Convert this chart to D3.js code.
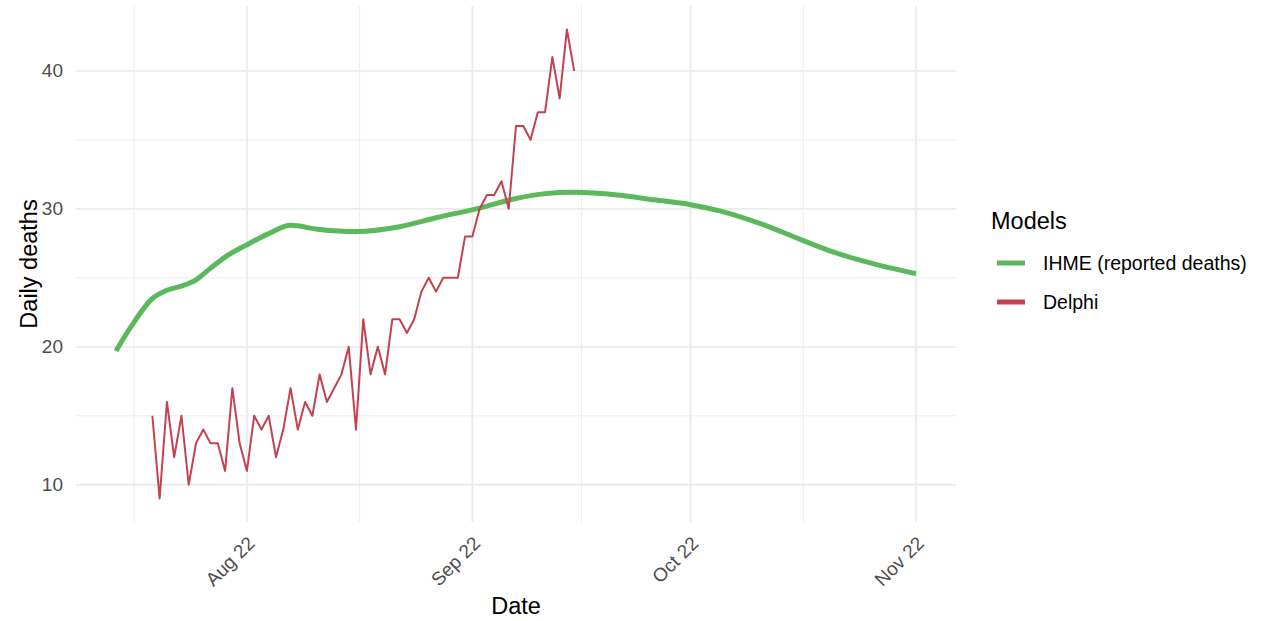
<!DOCTYPE html>
<html>
<head>
<meta charset="utf-8">
<script src="https://cdn.jsdelivr.net/npm/d3@7"></script>
<style>
  body { margin: 0; background: #fff; }
  svg { display: block; font-family: "Liberation Sans", Arial, sans-serif; }
</style>
</head>
<body>
<svg id="chart" width="1263" height="621"></svg>
<script>
// ---- data ----
const seriesNames = ["IHME (reported deaths)", "Delphi"];
const seriesColors = ["#5cb85c", "#c4424f"];

const ihmeDates = ["2022-07-14","2022-07-16","2022-07-19","2022-07-21","2022-07-23","2022-07-25","2022-07-27","2022-07-29",
  "2022-08-01","2022-08-04","2022-08-07","2022-08-11","2022-08-16","2022-08-22","2022-08-27","2022-09-02","2022-09-07",
  "2022-09-11","2022-09-15","2022-09-21","2022-09-26","2022-10-01","2022-10-05","2022-10-11","2022-10-16","2022-10-21",
  "2022-10-27","2022-11-01"];
const ihmeValues = [19.7,21.4,23.5,24.1,24.4,24.85,25.7,26.5,
  27.4,28.2,28.8,28.5,28.35,28.7,29.35,30.05,30.75,
  31.1,31.2,31.0,30.65,30.3,29.85,28.85,27.8,26.8,
  25.9,25.3];

const delphiStart = "2022-07-19";
const delphiValues = [15,9,16,12,15,10,13,14,13,13,11,17,13,11,15,14,15,12,14,17,14,16,15,18,16,17,18,20,14,22,
  18,20,18,22,22,21,22,24,25,24,25,25,25,28,28,30,31,31,32,30,36,36,35,37,37,41,38,43,40];

const yTicks = [10,20,30,40];
const yMinor = [15,25,35];
const xTickDates = ["2022-08-01","2022-09-01","2022-10-01","2022-11-01"];
const xTickLabels = ["Aug 22","Sep 22","Oct 22","Nov 22"];
const xMinorDates = ["2022-07-16T12:00","2022-08-16T12:00","2022-09-16","2022-10-16T12:00"];

// ---- build ----
const parse = d => new Date(d.length > 10 ? d : d + "T00:00");
const ihme = ihmeDates.map((d,i) => ({date: parse(d), value: ihmeValues[i]}));
const dStart = parse(delphiStart);
const delphi = delphiValues.map((v,i) => ({date: d3.timeDay.offset(dStart, i), value: v}));

const svg = d3.select("#chart");
const panel = {left: 76, right: 956, top: 6, bottom: 522};
const FONT = "Liberation Sans, Arial, sans-serif";

const allDates = ihme.map(d=>d.date).concat(delphi.map(d=>d.date));
const [dMin, dMax] = d3.extent(allDates);
const span = dMax - dMin;
const x = d3.scaleTime().domain([new Date(+dMin - span*0.05), new Date(+dMax + span*0.05)]).range([panel.left, panel.right]);
const allVals = ihmeValues.concat(delphiValues);
const [vMin, vMax] = d3.extent(allVals);
const vSpan = vMax - vMin;
const y = d3.scaleLinear().domain([vMin - vSpan*0.05, vMax + vSpan*0.05]).range([panel.bottom, panel.top]);

const grid = svg.append("g");
// minor grid
grid.selectAll(".ymin").data(yMinor).enter().append("line")
  .attr("x1", panel.left).attr("x2", panel.right)
  .attr("y1", d=>y(d)).attr("y2", d=>y(d))
  .attr("stroke", "#ebebeb").attr("stroke-width", 0.9);
grid.selectAll(".xmin").data(xMinorDates.map(parse)).enter().append("line")
  .attr("y1", panel.top).attr("y2", panel.bottom)
  .attr("x1", d=>x(d)).attr("x2", d=>x(d))
  .attr("stroke", "#ebebeb").attr("stroke-width", 0.9);
// major grid
grid.selectAll(".ymaj").data(yTicks).enter().append("line")
  .attr("x1", panel.left).attr("x2", panel.right)
  .attr("y1", d=>y(d)).attr("y2", d=>y(d))
  .attr("stroke", "#ebebeb").attr("stroke-width", 1.8);
grid.selectAll(".xmaj").data(xTickDates.map(parse)).enter().append("line")
  .attr("y1", panel.top).attr("y2", panel.bottom)
  .attr("x1", d=>x(d)).attr("x2", d=>x(d))
  .attr("stroke", "#ebebeb").attr("stroke-width", 1.8);

// y axis labels
const yAxis = svg.append("g").attr("transform", `translate(${panel.left},0)`)
  .call(d3.axisLeft(y).tickValues(yTicks).tickSize(0).tickPadding(13));
yAxis.select(".domain").remove();
yAxis.selectAll("text").attr("fill", "#4d4d4d").attr("font-size", 19)
  .attr("font-family", FONT);

// x axis labels
const xAxis = svg.append("g").attr("transform", `translate(0,${panel.bottom})`)
  .call(d3.axisBottom(x).tickValues(xTickDates.map(parse)).tickSize(0)
    .tickFormat((d,i) => xTickLabels[i]));
xAxis.select(".domain").remove();
xAxis.selectAll("text")
  .attr("fill", "#4d4d4d").attr("font-size", 19)
  .attr("font-family", FONT)
  .attr("text-anchor", "end")
  .attr("dy", null).attr("y", 0)
  .attr("transform", "translate(-1,13) rotate(-45)")
  .attr("dominant-baseline", "hanging");

// axis titles
svg.append("text").attr("x", (panel.left+panel.right)/2).attr("y", 614)
  .attr("text-anchor", "middle").attr("font-size", 23.5).attr("fill", "#000").text("Date");
svg.append("text").attr("transform", `translate(37,${(panel.top+panel.bottom)/2}) rotate(-90)`)
  .attr("text-anchor", "middle").attr("font-size", 23.5).attr("fill", "#000").text("Daily deaths");

// lines
svg.append("path").datum(ihme)
  .attr("d", d3.line().x(d=>x(d.date)).y(d=>y(d.value)).curve(d3.curveMonotoneX))
  .attr("fill", "none").attr("stroke", seriesColors[0]).attr("stroke-width", 5)
  .attr("stroke-linejoin", "round");
svg.append("path").datum(delphi)
  .attr("d", d3.line().x(d=>x(d.date)).y(d=>y(d.value)))
  .attr("fill", "none").attr("stroke", seriesColors[1]).attr("stroke-width", 2)
  .attr("stroke-linejoin", "round");

// legend
const lg = svg.append("g").attr("transform", "translate(991,0)");
lg.append("text").attr("x", 0).attr("y", 229).attr("font-size", 23.5).attr("fill", "#000").text("Models");
seriesNames.forEach((name, i) => {
  const yy = 263 + i*39;
  lg.append("line").attr("x1", 6).attr("x2", 34).attr("y1", yy).attr("y2", yy)
    .attr("stroke", seriesColors[i]).attr("stroke-width", 5);
  lg.append("text").attr("x", 52).attr("y", yy + 6.5).attr("font-size", 19.5).attr("fill", "#000").text(name);
});
</script>
</body>
</html>
